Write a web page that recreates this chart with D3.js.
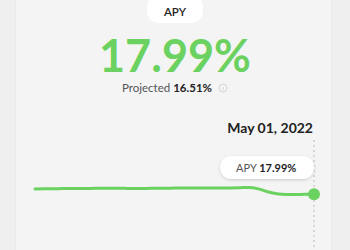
<!DOCTYPE html>
<html lang="en">
<head>
  <meta charset="UTF-8">
  <title>APY</title>
  <style>
    body { margin: 0; background: #efefef; }
    svg { display: block; font-family: "Lato", "Noto Sans", sans-serif; }
  </style>
</head>
<body>
  <svg id="chart" width="350" height="250"></svg>
  <script src="https://d3js.org/d3.v7.min.js"></script>
  <script>
    // daily APY values, Apr 01 - May 01 2022
    var dates = d3.timeDays(new Date(2022, 3, 1), new Date(2022, 4, 2));
    var apy = [18.32, 18.33, 18.33, 18.34, 18.34, 18.35, 18.35, 18.36, 18.36, 18.36,
               18.35, 18.35, 18.35, 18.36, 18.36, 18.37, 18.37, 18.37, 18.37, 18.38,
               18.38, 18.38, 18.39, 18.41, 18.32, 18.14, 18.01, 17.97, 17.97, 17.98, 17.99];
    var currentApy = "17.99%";
    var projectedApy = "16.51%";
    var dateLabel = "May 01, 2022";

    var data = dates.map(function(d, i) { return {date: d, value: apy[i]}; });

    var svg = d3.select("#chart");
    var defs = svg.append("defs");
    var f = defs.append("filter").attr("id", "shadow").attr("x", "-20%").attr("y", "-40%").attr("width", "140%").attr("height", "180%");
    f.append("feDropShadow").attr("dx", 0).attr("dy", 1).attr("stdDeviation", 1.5).attr("flood-color", "#000").attr("flood-opacity", 0.18);
    var f2 = defs.append("filter").attr("id", "cardshadow").attr("x", "-10%").attr("y", "-10%").attr("width", "120%").attr("height", "120%");
    f2.append("feDropShadow").attr("dx", 0).attr("dy", 0).attr("stdDeviation", 1).attr("flood-color", "#000").attr("flood-opacity", 0.06);

    // card
    svg.append("rect").attr("x", 16).attr("y", -10).attr("width", 315).attr("height", 270)
      .attr("fill", "#f4f4f4").attr("filter", "url(#cardshadow)");

    // header pill
    svg.append("rect").attr("x", 147).attr("y", -5).attr("width", 56).attr("height", 28).attr("rx", 12)
      .attr("fill", "#fff");
    svg.append("text").attr("x", 175).attr("y", 16).attr("text-anchor", "middle")
      .attr("font-size", 11.5).attr("font-weight", 600).attr("fill", "#222").text("APY");

    svg.append("text").attr("x", 175).attr("y", 72).attr("text-anchor", "middle")
      .attr("font-size", 45).attr("font-weight", 700).attr("fill", "#6bd160").text(currentApy);

    var proj = svg.append("text").attr("x", 167).attr("y", 92).attr("text-anchor", "middle")
      .attr("font-size", 11.5).attr("fill", "#555");
    proj.append("tspan").text("Projected ");
    proj.append("tspan").attr("font-weight", 700).attr("fill", "#222").text(projectedApy);
    svg.append("circle").attr("cx", 223).attr("cy", 88).attr("r", 4).attr("fill", "none")
      .attr("stroke", "#ccc").attr("stroke-width", 0.8);
    svg.append("line").attr("x1", 223).attr("x2", 223).attr("y1", 87).attr("y2", 90)
      .attr("stroke", "#ccc").attr("stroke-width", 0.8);

    var x = d3.scaleTime().domain(d3.extent(dates)).range([35, 314]);
    var y = d3.scaleLinear().domain([17, 19.5]).range([210, 170]);

    var last = data[data.length - 1];

    svg.append("text").attr("x", 313).attr("y", 133).attr("text-anchor", "end")
      .attr("font-size", 14).attr("font-weight", 700).attr("fill", "#222").text(dateLabel);

    svg.append("line").attr("x1", x(last.date)).attr("x2", x(last.date)).attr("y1", 140).attr("y2", 250)
      .attr("stroke", "#bbb").attr("stroke-width", 1).attr("stroke-dasharray", "2,3");

    var line = d3.line().x(d => x(d.date)).y(d => y(d.value)).curve(d3.curveMonotoneX);
    svg.append("path").datum(data).attr("d", line).attr("fill", "none")
      .attr("stroke", "#6bd160").attr("stroke-width", 3).attr("stroke-linecap", "round");

    svg.append("circle").attr("cx", x(last.date)).attr("cy", y(last.value)).attr("r", 6).attr("fill", "#6bd160");

    // tooltip
    var tip = svg.append("g");
    tip.append("rect").attr("x", 220).attr("y", 156).attr("width", 94).attr("height", 23).attr("rx", 11.5)
      .attr("fill", "#fff").attr("filter", "url(#shadow)");
    var tt = tip.append("text").attr("x", 236).attr("y", 171.5).attr("font-size", 11);
    tt.append("tspan").attr("fill", "#555").text("APY ");
    tt.append("tspan").attr("font-weight", 700).attr("fill", "#222").text(last.value.toFixed(2) + "%");
  </script>
</body>
</html>
